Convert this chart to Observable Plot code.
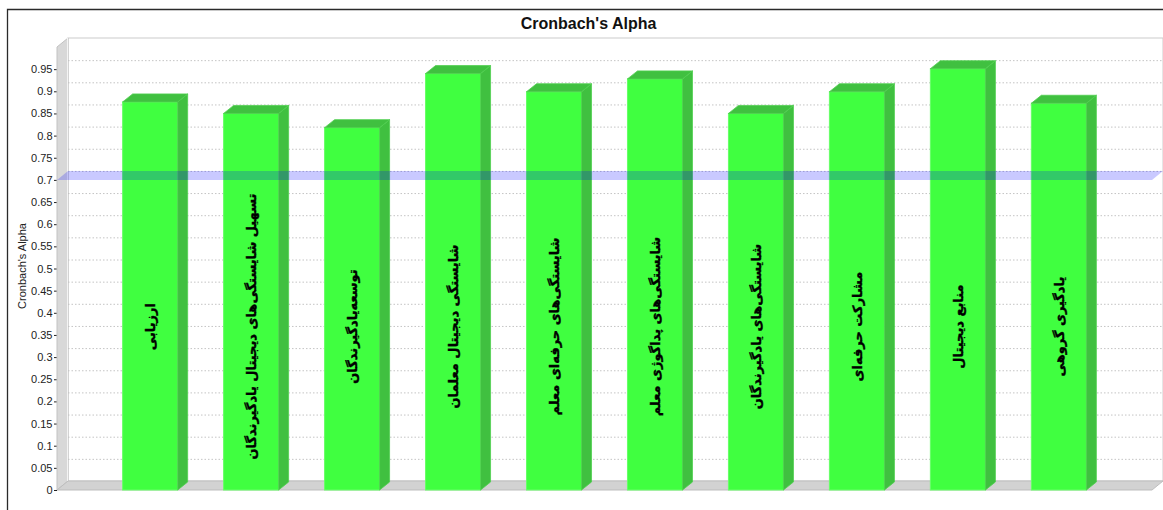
<!DOCTYPE html>
<html>
<head>
<meta charset="utf-8">
<script src="https://cdn.jsdelivr.net/npm/d3@7"></script>
<script src="https://cdn.jsdelivr.net/npm/@observablehq/plot@0.6"></script>
<style>
  html, body { margin: 0; padding: 0; background: #fff; }
  #chart svg { display: block; }
</style>
</head>
<body>
<div id="chart"></div>
<script>
// Reliability (Cronbach's alpha) for each component of the questionnaire
const categories = [
  "ارزیابی",
  "تسهیل شایستگی‌های دیجیتال یادگیرندگان",
  "توسعه‌یادگیرندگان",
  "شایستگی دیجیتال معلمان",
  "شایستگی‌های حرفه‌ای معلم",
  "شایستگی‌های پداگوژی معلم",
  "شایستگی‌های یادگیرندگان",
  "مشارکت حرفه‌ای",
  "منابع دیجیتال",
  "یادگیری گروهی"
];
const alphaValues = [0.876, 0.850, 0.818, 0.940, 0.899, 0.928, 0.850, 0.899, 0.951, 0.873];
const yTicks = [0, 0.05, 0.1, 0.15, 0.2, 0.25, 0.3, 0.35, 0.4, 0.45, 0.5,
                0.55, 0.6, 0.65, 0.7, 0.75, 0.8, 0.85, 0.9, 0.95];
const threshold = 0.7;           // acceptable reliability level
const chartTitle = "Cronbach's Alpha";
const yAxisTitle = "Cronbach's Alpha";

const rows = categories.map((name, i) => ({name, alpha: alphaValues[i]}));

// pseudo-3D depth of the walls and of the bars
const WALL_DX = 11, WALL_DY = 9;
const BAR_DX = 10, BAR_DY = 8;

// outer frame of the chart
function border(index, scales, values, dims) {
  const g = d3.create("svg:g");
  g.append("path")
    .attr("d", `M7.5,${dims.height}V9.5H${dims.width}`)
    .attr("fill", "none").attr("stroke", "#2a2a2a").attr("stroke-width", 1.3);
  return g.node();
}

// back wall, grid, side wall and floor
function room(index, {y}, values, dims) {
  const L = dims.marginLeft, R = dims.width - dims.marginRight;
  const y0 = y(0), y1 = y(1);
  const g = d3.create("svg:g");
  g.append("rect")
    .attr("x", L + WALL_DX).attr("y", y1 - WALL_DY)
    .attr("width", R - L).attr("height", y0 - y1)
    .attr("fill", "#fff").attr("stroke", "#cccccc");
  for (const t of yTicks) {
    if (t === 0) continue;
    g.append("line")
      .attr("x1", L + WALL_DX).attr("x2", R + WALL_DX)
      .attr("y1", y(t) - WALL_DY + 0.5).attr("y2", y(t) - WALL_DY + 0.5)
      .attr("stroke", "#c4c4c4").attr("stroke-dasharray", "1.5,2");
  }
  g.append("path")
    .attr("d", `M${L},${y1}L${L + WALL_DX},${y1 - WALL_DY}L${L + WALL_DX},${y0 - WALL_DY}L${L},${y0}Z`)
    .attr("fill", "#d8d8d8").attr("stroke", "#c2c2c2");
  g.append("line")
    .attr("x1", L + WALL_DX - 0.5).attr("x2", L + WALL_DX - 0.5)
    .attr("y1", y1 - WALL_DY).attr("y2", y0 - WALL_DY)
    .attr("stroke", "#f4f4f4");
  g.append("path")
    .attr("d", `M${L},${y0}L${L + WALL_DX},${y0 - WALL_DY}L${R + WALL_DX},${y0 - WALL_DY}L${R},${y0}Z`)
    .attr("fill", "#d2d2d2").attr("stroke", "#bdbdbd");
  return g.node();
}

// side and top faces of each bar
function barDepth(index, {x, y}) {
  const g = d3.create("svg:g");
  const bw = x.bandwidth();
  for (const d of rows) {
    const x1 = x(d.name), x2 = x1 + bw;
    const yt = y(d.alpha), yb = y(0);
    g.append("path")
      .attr("d", `M${x2},${yt}L${x2 + BAR_DX},${yt - BAR_DY}L${x2 + BAR_DX},${yb - BAR_DY}L${x2},${yb}Z`)
      .attr("fill", "#40c040").attr("stroke", "#4fcf4f").attr("stroke-width", 0.8);
    g.append("path")
      .attr("d", `M${x1},${yt}L${x1 + BAR_DX},${yt - BAR_DY}L${x2 + BAR_DX},${yt - BAR_DY}L${x2},${yt}Z`)
      .attr("fill", "#40c040").attr("stroke", "#4fcf4f").attr("stroke-width", 0.8);
  }
  return g.node();
}

// translucent plane marking the threshold
function thresholdPlane(index, {y}, values, dims) {
  const L = dims.marginLeft, R = dims.width - dims.marginRight;
  const yb = y(threshold);
  const g = d3.create("svg:g");
  g.append("path")
    .attr("d", `M${L},${yb}L${L + WALL_DX},${yb - WALL_DY}L${R + WALL_DX},${yb - WALL_DY}L${R},${yb}Z`)
    .attr("fill", "rgb(0,0,255)").attr("fill-opacity", 0.21);
  return g.node();
}

const chart = Plot.plot({
  width: 1163,
  height: 510,
  marginTop: 47,
  marginBottom: 20,
  marginLeft: 57,
  marginRight: 11,
  style: {
    fontFamily: "'Liberation Sans', Arial, sans-serif",
    fontSize: "11px",
    color: "#222",
    background: "#fff",
    overflow: "visible"
  },
  x: {domain: categories, paddingInner: 0.455, paddingOuter: 0.65, round: false, axis: null},
  y: {
    domain: [0, 1],
    ticks: yTicks,
    tickFormat: d => String(+d.toFixed(2)),
    tickSize: 3,
    tickPadding: 2,
    label: null
  },
  marks: [
    border,
    room,
    Plot.barY(rows, {x: "name", y: "alpha", fill: "#40ff40", stroke: "#66ff66", strokeWidth: 1}),
    barDepth,
    thresholdPlane,
    Plot.text(rows, {
      x: "name", y: () => 0.37, text: "name", rotate: -90,
      fontSize: 13, fontWeight: "bold", fontFamily: "'DejaVu Sans', sans-serif",
      fill: "#000", stroke: "#000", strokeWidth: 0.4
    }),
    Plot.text([yAxisTitle], {
      frameAnchor: "left", textAnchor: "middle", text: d => d, rotate: -90,
      dx: -35, dy: -3, fontSize: 11, fill: "#222"
    }),
    Plot.text([chartTitle], {
      frameAnchor: "top", textAnchor: "middle", lineAnchor: "middle", text: d => d,
      dx: -16.5, dy: -23.5, fontSize: 16, fontWeight: "bold", fill: "#111"
    })
  ]
});

document.getElementById("chart").append(chart);
</script>
</body>
</html>
